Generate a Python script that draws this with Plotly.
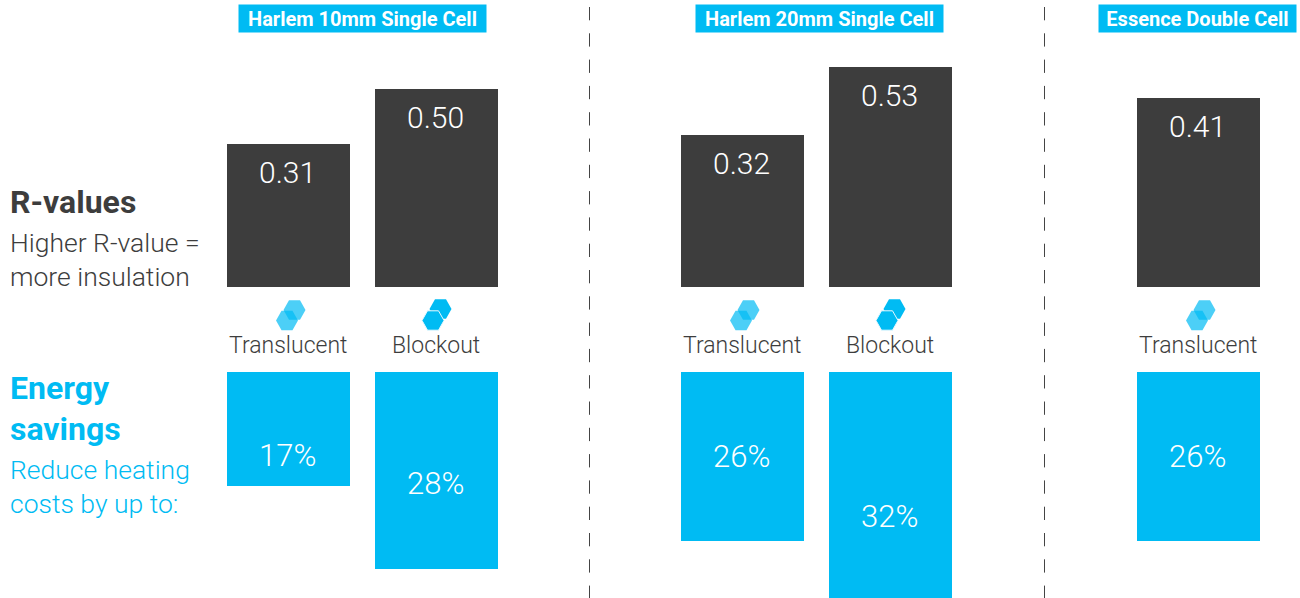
import plotly.graph_objects as go

# ---- data ----
groups = ["Harlem 10mm Single Cell", "Harlem 20mm Single Cell", "Essence Double Cell"]
group_categories = [["Translucent", "Blockout"], ["Translucent", "Blockout"], ["Translucent"]]
r_labels = [["0.31", "0.50"], ["0.32", "0.53"], ["0.41"]]
# drawn bar lengths (the source bars are not strictly proportional to their labels)
r_lengths = [[143, 198], [152, 220], [189]]
saving_labels = [["17%", "28%"], ["26%", "32%"], ["26%"]]
saving_lengths = [[114, 197], [169, 226], [169]]
saving_label_depth = [[83.5, 111.5], [84.5, 144.5], [84.5]]

# ---- layout in page pixels ----
W, H = 1300, 598
DARK = "#3d3d3d"
BLUE = "#00bbf3"
FONT = "Roboto"
bar_step = 148
bar_gap = 25 / bar_step
group_left = [214.5, 668.5, 1124.5]
header_box = [(238, 486), (695, 943), (1098, 1296)]
divider_x = [589.5, 1044.5]
top_row = (0, 287)
bottom_row = (372, 598)


def px(x):
    return x / W


def py(y):
    return 1 - y / H


fig = go.Figure()
layout = {}
for g, cats in enumerate(group_categories):
    left = group_left[g]
    dom = [px(left), px(left + bar_step * len(cats))]
    xa1 = g * 2 + 1
    for row, (lengths, labels, color, ext) in enumerate([
        (r_lengths[g], r_labels[g], DARK, top_row),
        (saving_lengths[g], saving_labels[g], BLUE, bottom_row),
    ]):
        n = xa1 + row
        xname, yname = ("x" if n == 1 else f"x{n}"), ("y" if n == 1 else f"y{n}")
        fig.add_trace(go.Bar(
            x=cats, y=lengths, marker=dict(color=color, line_width=0),
            xaxis=xname, yaxis=yname, showlegend=False, hoverinfo="skip",
            width=1 - bar_gap,
        ))
        for i, (cat, length, lab) in enumerate(zip(cats, lengths, labels)):
            if row == 0:
                yv, anchor, shift = length, "top", -8.5
            else:
                yv, anchor, shift = saving_label_depth[g][i], "middle", 0
            fig.add_annotation(
                x=cat, y=yv, xref=xname, yref=yname, text=lab, showarrow=False,
                yanchor=anchor, yshift=shift, xshift=-0.7,
                font=dict(family=FONT, size=30 if row == 0 else 31, color="white", weight=300),
            )
        kx = "xaxis" if n == 1 else f"xaxis{n}"
        ky = "yaxis" if n == 1 else f"yaxis{n}"
        layout[kx] = dict(domain=dom, visible=False, type="category",
                          range=[-0.5, len(cats) - 0.5], anchor=yname,
                          categoryorder="array", categoryarray=cats)
        if row == 0:
            layout[ky] = dict(domain=[py(ext[1]), py(ext[0])], range=[0, ext[1] - ext[0]],
                              visible=False, anchor=xname)
        else:
            layout[ky] = dict(domain=[py(ext[1]), py(ext[0])], range=[ext[1] - ext[0], 0],
                              visible=False, anchor=xname)

fig.update_layout(**layout)

shapes = []
annotations = []


def hexagon(cx, cy, rx, ry):
    pts = [(cx - rx, cy), (cx - rx / 2, cy - ry), (cx + rx / 2, cy - ry),
           (cx + rx, cy), (cx + rx / 2, cy + ry), (cx - rx / 2, cy + ry)]
    return "M " + " L ".join(f"{px(a):.5f},{py(b):.5f}" for a, b in pts) + " Z"


def icon(cx, cat):
    if cat == "Translucent":
        for dx, cy in [(6, 310), (-1.5, 320.5)]:
            shapes.append(dict(type="path", xref="paper", yref="paper",
                               path=hexagon(cx + dx, cy, 11, 9.7),
                               fillcolor=BLUE, opacity=0.7, line_width=0))
    else:
        shapes.append(dict(type="path", xref="paper", yref="paper",
                           path=hexagon(cx + 4, 309, 11, 9.7),
                           fillcolor=BLUE, line_width=0))
        shapes.append(dict(type="path", xref="paper", yref="paper",
                           path=hexagon(cx - 3.5, 320.5, 11, 9.7),
                           fillcolor=BLUE, line=dict(color="#e8f8fe", width=1)))
    annotations.append(dict(xref="paper", yref="paper", x=px(cx - 1), y=py(346), text=cat,
                            showarrow=False, xanchor="center", yanchor="middle",
                            font=dict(family=FONT, size=23, color=DARK, weight=300)))


for g, cats in enumerate(group_categories):
    for i, cat in enumerate(cats):
        icon(group_left[g] + bar_step * (i + 0.5), cat)
    a, b = header_box[g]
    annotations.append(dict(xref="paper", yref="paper", x=px((a + b) / 2), y=py(19), text=f"<b>{groups[g]}</b>",
                            showarrow=False, xanchor="center", yanchor="middle",
                            width=b - a - 1, height=27, bgcolor=BLUE, borderpad=0,
                            font=dict(family=FONT, size=20, color="white")))

for x in divider_x:
    shapes.append(dict(type="line", xref="paper", yref="paper", x0=px(x), x1=px(x), y0=py(7), y1=py(598),
                       line=dict(color="#444444", width=1, dash="13.3px,13px")))


def side(text, y, size, color, bold=False):
    annotations.append(dict(xref="paper", yref="paper", x=px(7.5), y=py(y),
                            text=f"<b>{text}</b>" if bold else text, showarrow=False,
                            xanchor="left", yanchor="middle",
                            font=dict(family=FONT, size=size, color=color, weight=None if bold else 300)))


side("R-values", 202, 32, DARK, True)
side("Higher R-value =", 242.5, 26.5, DARK)
side("more insulation", 276.5, 26.5, DARK)
side("Energy", 387.5, 32, BLUE, True)
side("savings", 429, 32, BLUE, True)
side("Reduce heating", 469.5, 26.5, BLUE)
side("costs by up to:", 503.5, 26.5, BLUE)

fig.update_layout(
    width=W, height=H, margin=dict(l=0, r=0, t=0, b=0),
    paper_bgcolor="white", plot_bgcolor="white",
    shapes=shapes, bargap=bar_gap,
)
for a in annotations:
    fig.add_annotation(**a)
fig.write_html("out.html", config={"displayModeBar": False},
               post_script="document.body.style.margin='0';document.body.style.overflow='hidden';")
